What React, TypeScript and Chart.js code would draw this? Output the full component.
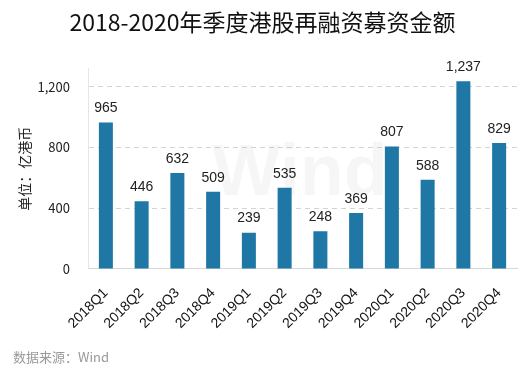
import React, { useEffect, useRef } from "react";
import { Chart, registerables } from "chart.js";

Chart.register(...registerables);

const categories = ["2018Q1", "2018Q2", "2018Q3", "2018Q4", "2019Q1", "2019Q2", "2019Q3", "2019Q4", "2020Q1", "2020Q2", "2020Q3", "2020Q4"];
const amounts = [965, 446, 632, 509, 239, 535, 248, 369, 807, 588, 1237, 829];
const yTicks = [0, 400, 800, 1200];
const titleText = "2018-2020年季度港股再融资募资金额";
const yTitle = "单位：亿港币";
const sourceText = "数据来源：Wind";

const fmt = (v: number) => v.toLocaleString("en-US");

const extras = {
  id: "extras",
  beforeDatasetsDraw(chart: any) {
    const ctx = chart.ctx;
    ctx.save();
    ctx.font = "bold 72px 'Liberation Sans', sans-serif";
    ctx.fillStyle = "rgba(0,0,0,0.035)";
    ctx.textAlign = "center";
    ctx.textBaseline = "middle";
    ctx.fillText("Wind", 300, 175);
    ctx.restore();
  },
  afterDatasetsDraw(chart: any) {
    const ctx = chart.ctx;
    const meta = chart.getDatasetMeta(0);
    ctx.save();
    ctx.font = "14px 'Liberation Sans', sans-serif";
    ctx.fillStyle = "#222";
    ctx.textAlign = "center";
    ctx.textBaseline = "bottom";
    meta.data.forEach((bar: any, i: number) => {
      ctx.fillText(fmt(amounts[i]), bar.x, bar.y - 7);
    });
    ctx.font = "13px 'Noto Sans CJK SC', sans-serif";
    ctx.fillStyle = "#999";
    ctx.textAlign = "left";
    ctx.textBaseline = "middle";
    ctx.fillText(sourceText, 13, 357);
    ctx.restore();
  },
};

export default function App() {
  const ref = useRef<HTMLCanvasElement | null>(null);
  useEffect(() => {
    document.body.style.margin = "0";
    const chart = new Chart(ref.current as HTMLCanvasElement, {
      type: "bar",
      data: {
        labels: categories,
        datasets: [
          {
            data: amounts,
            backgroundColor: "#1f77a5",
            barPercentage: 0.8,
            categoryPercentage: 0.49,
          },
        ],
      },
      options: {
        animation: false,
        responsive: false,
        maintainAspectRatio: false,
        layout: { padding: { left: 8, right: 12, top: 0, bottom: 43 } },
        plugins: {
          legend: { display: false },
          tooltip: { enabled: false },
          title: {
            display: true,
            text: titleText,
            color: "#111",
            font: { size: 23, family: "'Noto Sans CJK SC', sans-serif", weight: "normal" },
            padding: { top: 8, bottom: 33 },
          },
        },
        scales: {
          x: {
            grid: { display: false },
            border: { display: true, color: "#d6d6d6" },
            afterFit: (scale: any) => {
              scale.paddingLeft = 0;
              scale.paddingRight = 0;
            },
            ticks: {
              color: "#111",
              font: { size: 14, family: "'Liberation Sans', Arial, sans-serif" },
              minRotation: 45,
              maxRotation: 45,
              padding: 8,
            },
          },
          y: {
            min: 0,
            max: 1320,
            afterBuildTicks: (scale: any) => {
              scale.ticks = yTicks.map((v) => ({ value: v }));
            },
            afterFit: (scale: any) => {
              scale.width = 80;
            },
            grid: { color: "#d4d4d4", drawTicks: false },
            border: { display: true, color: "#e6e6e6", dash: [5, 4] },
            ticks: {
              color: "#222",
              font: { size: 13, family: "'Noto Sans CJK SC', sans-serif" },
              padding: 18,
              callback: (v: any) => fmt(Number(v)),
            },
            title: {
              display: true,
              text: yTitle,
              color: "#222",
              font: { size: 14, family: "'Noto Sans CJK SC', sans-serif" },
              padding: { top: 8, bottom: 6 },
            },
          },
        },
      },
      plugins: [extras],
    });
    return () => chart.destroy();
  }, []);
  return (
    <div style={{ position: "absolute", left: 0, top: 0, width: 529, height: 383 }}>
      <canvas ref={ref} width={529} height={383} />
    </div>
  );
}
